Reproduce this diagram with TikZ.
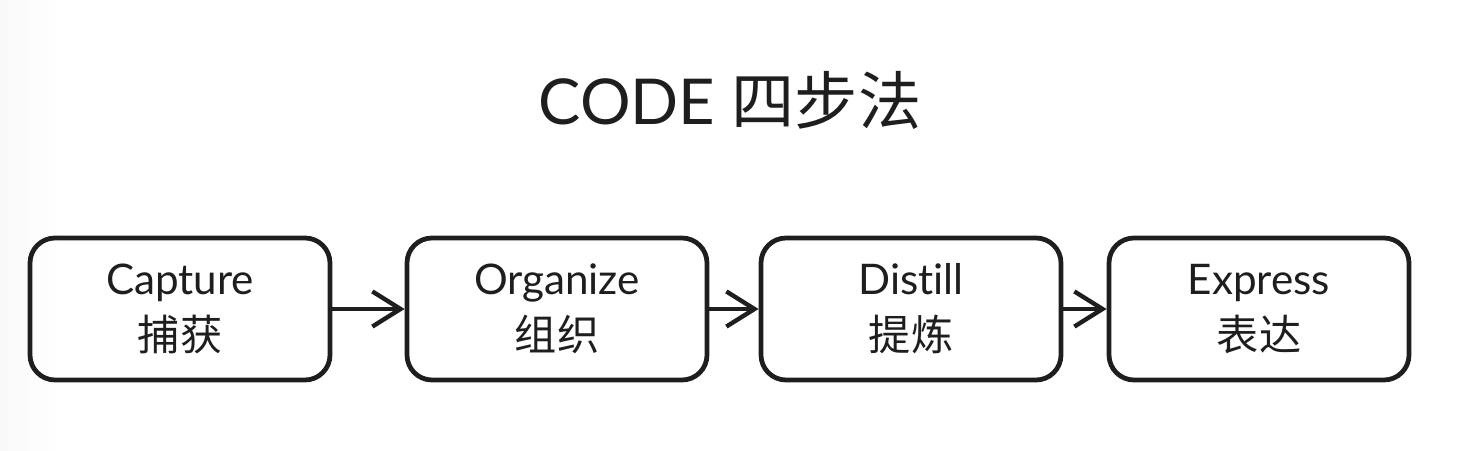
\documentclass[tikz,border=0pt]{standalone}
\usepackage{fontspec}
\setmainfont{Lato}[Ligatures=NoCommon]
\newfontfamily\cjk{Noto Sans CJK SC}
\usetikzlibrary{arrows.meta}
\definecolor{ink}{HTML}{1E1E1E}
\tikzset{
  stepbox/.style={draw=ink, line width=1.35pt, rounded corners=0.25cm,
    minimum width=3.0cm, minimum height=1.42cm, align=center, text=ink,
    font=\fontsize{12}{16}\selectfont},
  flow/.style={draw=ink, line width=1.25pt, -{Straight Barb[length=8pt, width=10pt, line width=1.25pt]}}
}
\begin{document}
\begin{tikzpicture}
\useasboundingbox (0,0) rectangle (14.58,4.50);
\shade[left color=gray!5, right color=white] (0,0) rectangle (0.6,4.5);

\def\ry{1.41}

\node[text=ink, font=\fontsize{18}{22}\selectfont] (title) at (7.30,3.50) {CODE {\cjk 四步法}};

\node[stepbox] (capture) at (1.80,\ry) {Capture\\{\cjk 捕获}};
\node[stepbox] (organize) at (5.57,\ry) {Organize\\{\cjk 组织}};
\node[stepbox] (distill) at (9.11,\ry) {Distill\\{\cjk 提炼}};
\node[stepbox] (express) at (12.59,\ry) {Express\\{\cjk 表达}};

\draw[flow] (capture) -- (organize);
\draw[flow] (organize) -- (distill);
\draw[flow] (distill) -- (express);
\end{tikzpicture}
\end{document}
